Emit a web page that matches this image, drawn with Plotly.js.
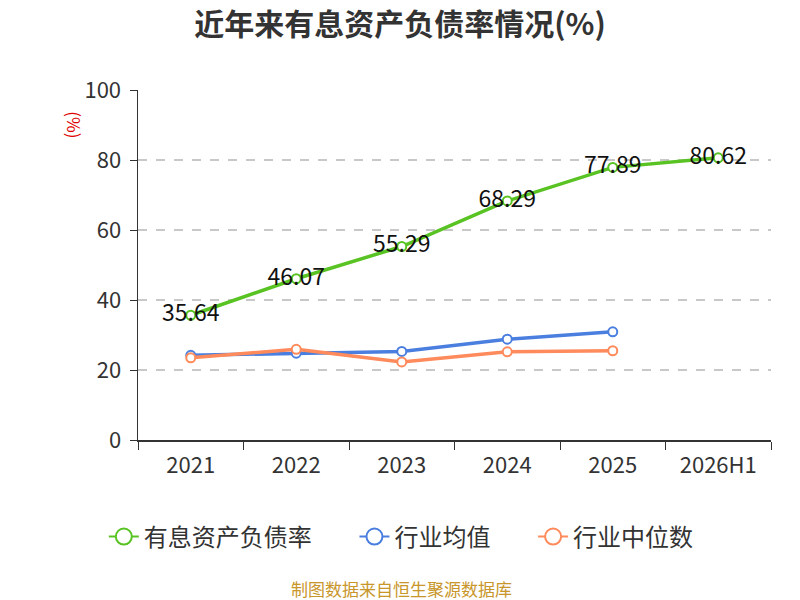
<!DOCTYPE html>
<html>
<head>
<meta charset="utf-8">
<script src="https://cdn.plot.ly/plotly-3.0.1.min.js"></script>
<style>
  html, body { margin: 0; padding: 0; background: #fff; }
  #chart { width: 800px; height: 600px; }
</style>
</head>
<body>
<div id="chart"></div>
<script>
const years = ["2021", "2022", "2023", "2024", "2025", "2026H1"];
const debtRatio = [35.64, 46.07, 55.29, 68.29, 77.89, 80.62];
const industryMean = [24.2, 24.8, 25.3, 28.8, 30.9, null];
const industryMedian = [23.5, 25.9, 22.3, 25.2, 25.5, null];
const yTicks = [0, 20, 40, 60, 80, 100];

const seriesNames = ["有息资产负债率", "行业均值", "行业中位数"];
const seriesColors = ["#58c322", "#4a7fe0", "#ff8a5b"];

const FONT = "'Noto Sans CJK SC', 'Noto Sans', sans-serif";
const PAD = "\u00a0".repeat(7);

function lineTrace(name, y, color, withText) {
  const t = {
    type: "scatter",
    mode: withText ? "lines+markers+text" : "lines+markers",
    name,
    x: years,
    y,
    line: { color, width: 3.5 },
    marker: { symbol: "circle", size: 9, color: "#fff", line: { color, width: 2 } },
    cliponaxis: false,
    showlegend: false,
    hoverinfo: "x+y",
  };
  if (withText) {
    t.text = y.map(v => v.toFixed(2));
    t.textposition = "middle center";
    t.textfont = { family: FONT, size: 23, color: "#111" };
  }
  return t;
}

// legend-only entries so the legend symbol can be drawn thin with a big open circle
function legendTrace(name, color) {
  return {
    type: "scatter",
    mode: "lines+markers",
    name,
    x: [null],
    y: [null],
    line: { color, width: 2 },
    marker: { symbol: "circle", size: 16, color: "#fff", line: { color, width: 2 } },
    showlegend: true,
    hoverinfo: "skip",
  };
}

const traces = [
  lineTrace(seriesNames[0], debtRatio, seriesColors[0], true),
  lineTrace(seriesNames[1], industryMean, seriesColors[1], false),
  lineTrace(seriesNames[2], industryMedian, seriesColors[2], false),
  ...seriesNames.map((n, i) => legendTrace(i < 2 ? n + PAD : n, seriesColors[i])),
];

const layout = {
  width: 800,
  height: 600,
  margin: { l: 138, r: 29, t: 90, b: 160 },
  paper_bgcolor: "#fff",
  plot_bgcolor: "#fff",
  font: { family: FONT, color: "#333" },
  showlegend: true,
  title: {
    text: "<b>近年来有息资产负债率情况(%)</b>",
    xref: "container",
    x: 0.5,
    xanchor: "center",
    y: 0.96,
    yanchor: "middle",
    font: { family: FONT, size: 30, color: "#333" },
  },
  xaxis: {
    type: "category",
    range: [-0.5, 5.5],
    showline: true,
    linecolor: "#333",
    linewidth: 1.5,
    ticks: "outside",
    tickson: "boundaries",
    ticklen: 8,
    tickcolor: "#333",
    ticklabelstandoff: 5,
    showgrid: false,
    zeroline: false,
    tickfont: { family: FONT, size: 22, color: "#333" },
  },
  yaxis: {
    range: [0, 100],
    tickvals: yTicks,
    showline: true,
    linecolor: "#333",
    linewidth: 1.5,
    ticks: "outside",
    ticklen: 7,
    tickcolor: "#333",
    ticklabelstandoff: 4,
    showgrid: true,
    gridcolor: "#c8c8c8",
    griddash: "dash",
    gridwidth: 1.2,
    zeroline: false,
    tickfont: { family: FONT, size: 22, color: "#333" },
  },
  legend: {
    orientation: "h",
    x: 0.416,
    xanchor: "center",
    y: -0.277,
    yanchor: "middle",
    font: { family: FONT, size: 24, color: "#333" },
  },
  annotations: [
    {
      text: "(%)",
      xref: "paper",
      yref: "paper",
      x: -0.1,
      xanchor: "center",
      y: 0.9,
      yanchor: "middle",
      showarrow: false,
      textangle: 90,
      font: { family: FONT, size: 17, color: "#e00000" },
    },
    {
      text: "制图数据来自恒生聚源数据库",
      xref: "paper",
      yref: "paper",
      x: 0.416,
      y: -0.425,
      xanchor: "center",
      yanchor: "middle",
      showarrow: false,
      font: { family: FONT, size: 17, color: "#c8962a" },
    },
  ],
};

Plotly.newPlot("chart", traces, layout, { displayModeBar: false, staticPlot: true });
</script>
</body>
</html>
